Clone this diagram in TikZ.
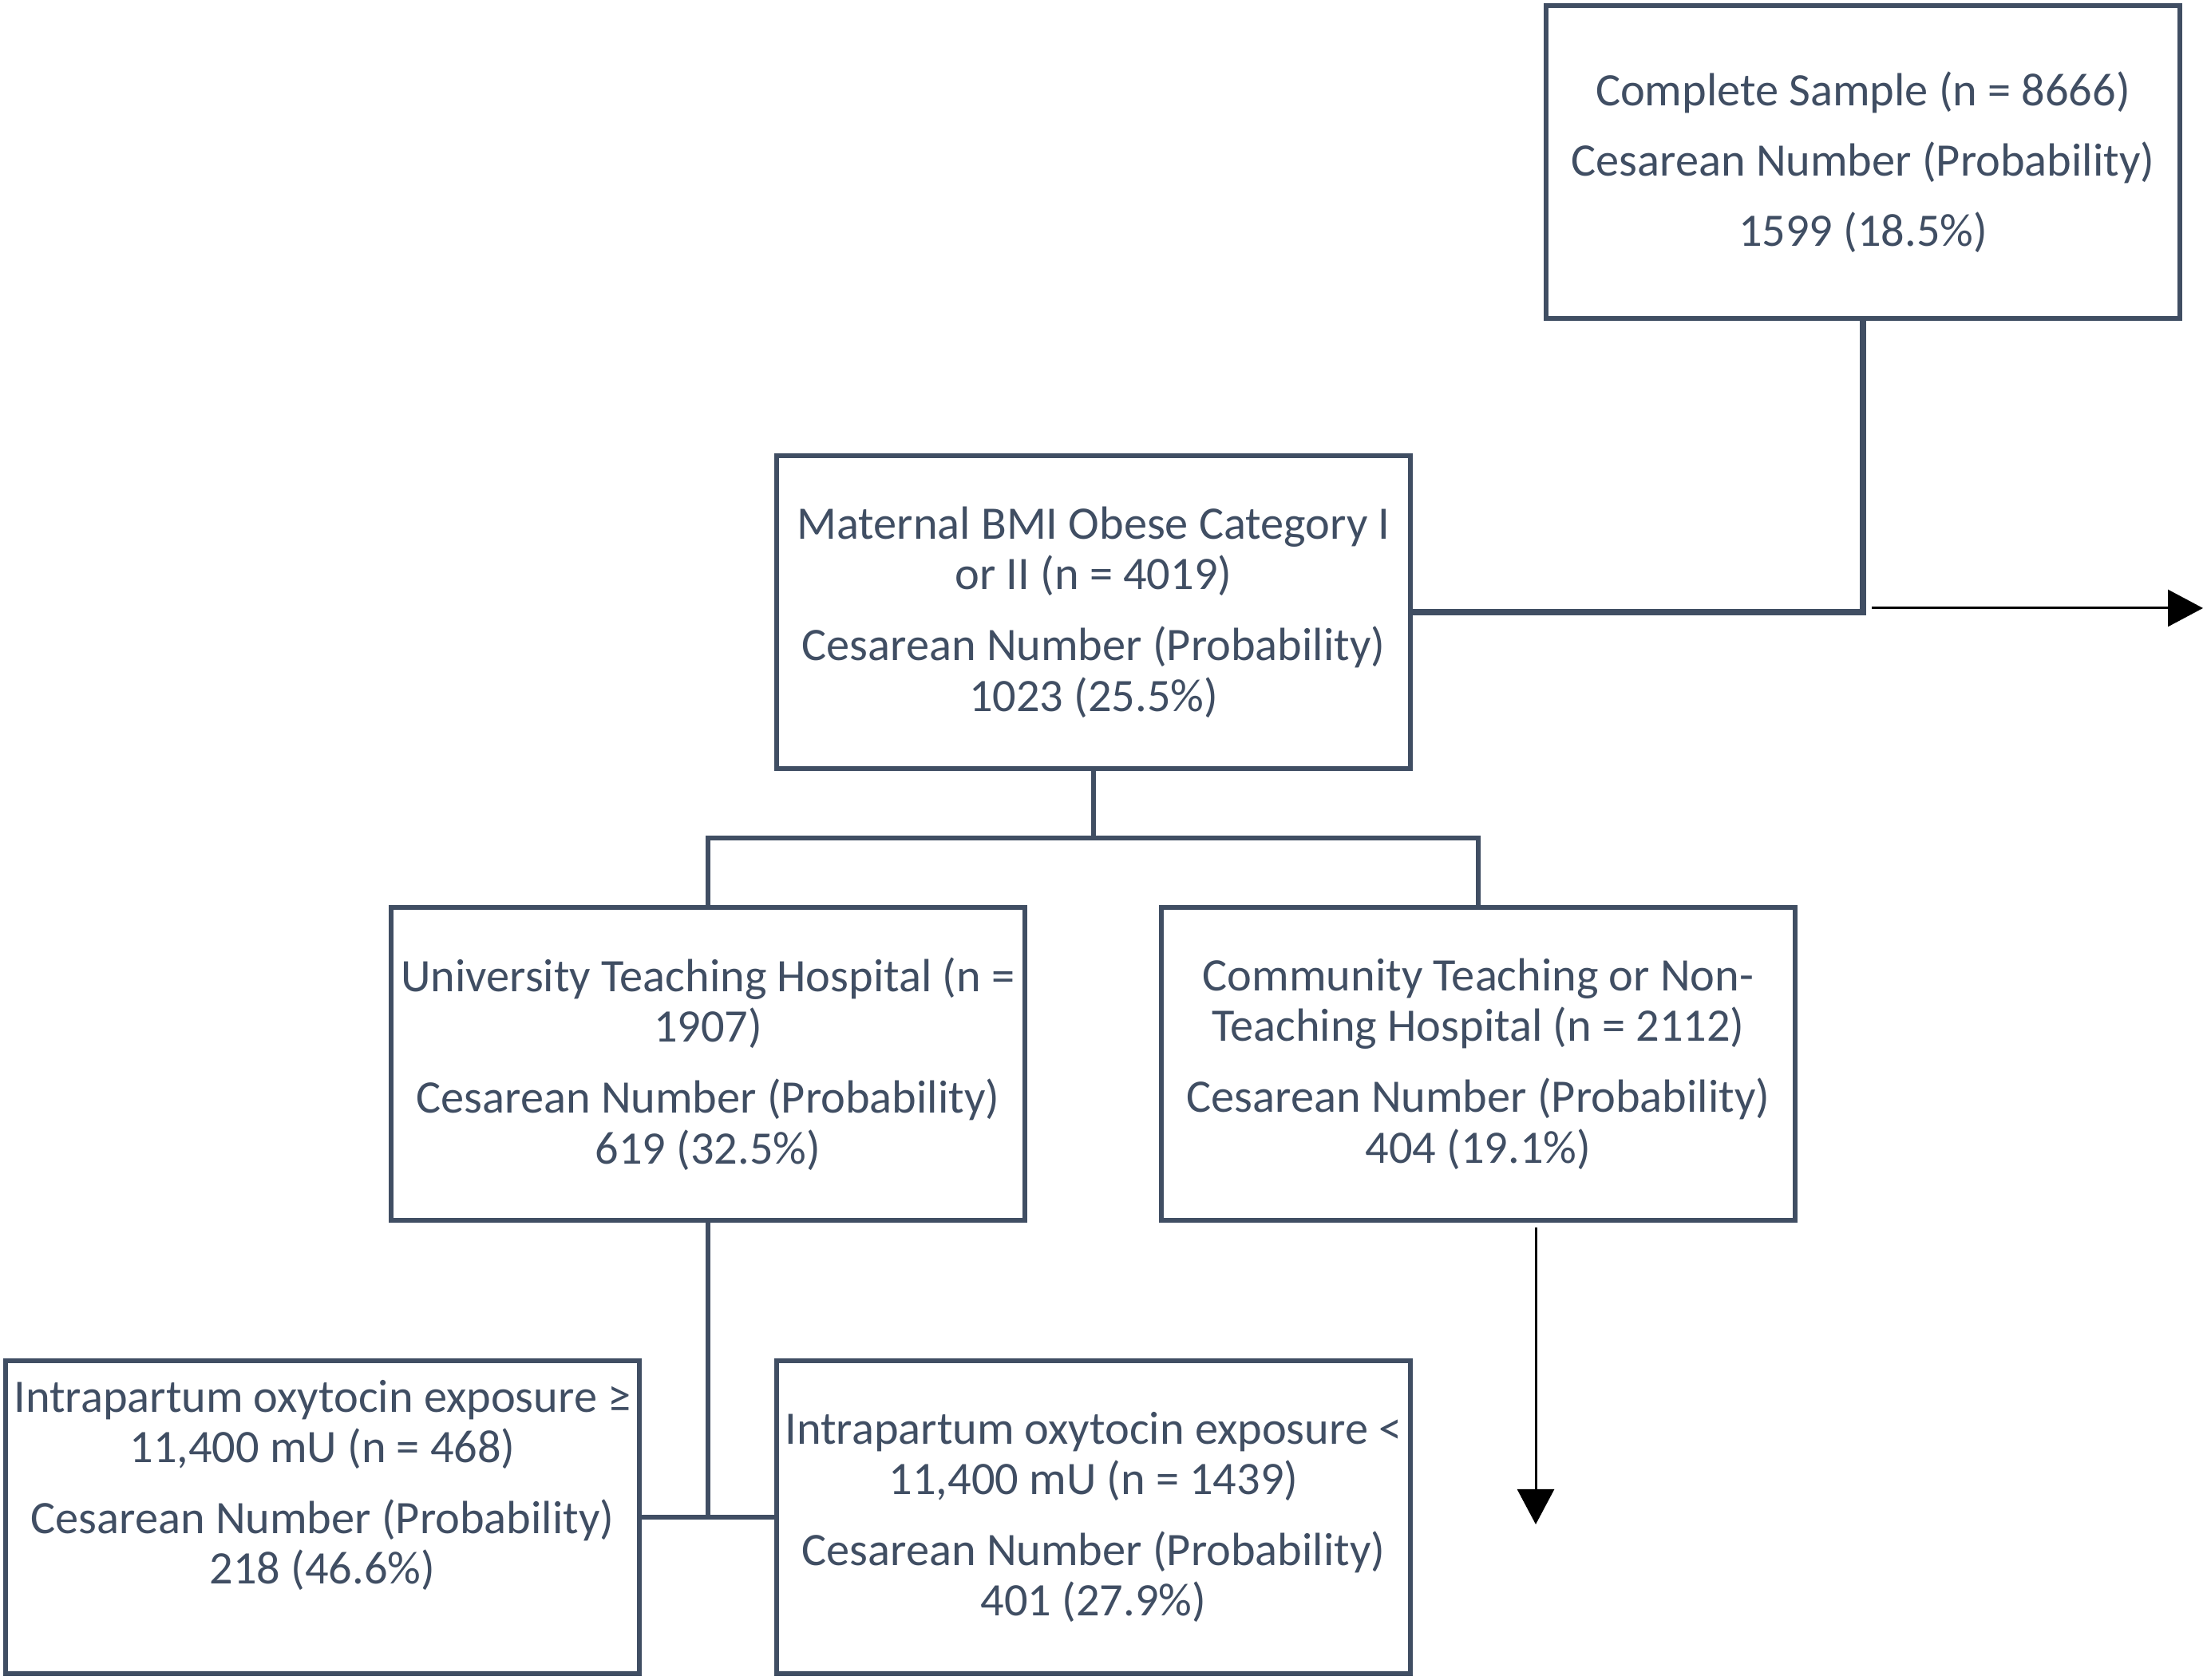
\documentclass[tikz,border=0pt]{standalone}
\usepackage{fontspec}
\setmainfont{Carlito}
\usepackage{tikz}
\usetikzlibrary{arrows.meta}

\definecolor{slate}{HTML}{404E63}

\begin{document}
\begin{tikzpicture}[
  box/.style={draw=slate, line width=0.06cm, text=slate, align=center,
    minimum width=7.94cm, minimum height=3.92cm, inner sep=0pt,
    font=\fontsize{16.6pt}{18pt}\selectfont},
  link/.style={draw=slate, line width=0.055cm},
  outarrow/.style={black, line width=0.03cm, -{Triangle[length=0.44cm, width=0.46cm]}}
]

\useasboundingbox (0, 0) rectangle (27.65, 21.05);

\node [box] (top) at (23.34, 19.02) {Complete Sample (n = 8666)\\[2.45mm]
  Cesarean Number (Probability)\\[2.45mm] 1599 (18.5\%)};

\node [box] (bmi) at (13.70, 13.38) {Maternal BMI Obese Category I\\ or II (n = 4019)\\[2.6mm]
  Cesarean Number (Probability)\\ 1023 (25.5\%)};

\node [box] (univ) at (8.87, 7.72) {University Teaching Hospital (n =\\ 1907)\\[2.6mm]
  Cesarean Number (Probability)\\ 619 (32.5\%)};
\node [box] (comm) at (18.52, 7.72) {Community Teaching or Non-\\ Teaching Hospital (n = 2112)\\[2.6mm]
  Cesarean Number (Probability)\\ 404 (19.1\%)};

\node [box] (high) at (4.04, 2.04) {Intrapartum oxytocin exposure ≥\\ 11,400 mU (n = 468)\\[2.6mm]
  Cesarean Number (Probability)\\ 218 (46.6\%)\\[2.5mm]~};
\node [box] (low) at (13.70, 2.04) {Intrapartum oxytocin exposure <\\ 11,400 mU (n = 1439)\\[2.6mm]
  Cesarean Number (Probability)\\ 401 (27.9\%)};

\draw [link, line width=0.075cm] (top.south) |- (bmi.east);

\draw [link] (bmi.south) -- ++(0, -0.84) coordinate (split);
\draw [link] (univ.north) |- (split) -| (comm.north);

\draw [link] (univ.south) -- (univ.south |- high.east);
\draw [link] (high.east) -- (low.west);

\coordinate (rfrom) at (23.45, 13.43);
\coordinate (rto) at (27.60, 13.43);
\draw [outarrow] (rfrom) -- (rto);

\coordinate (dfrom) at (19.24, 5.67);
\coordinate (dto) at (19.24, 1.95);
\draw [outarrow] (dfrom) -- (dto);

\end{tikzpicture}
\end{document}
